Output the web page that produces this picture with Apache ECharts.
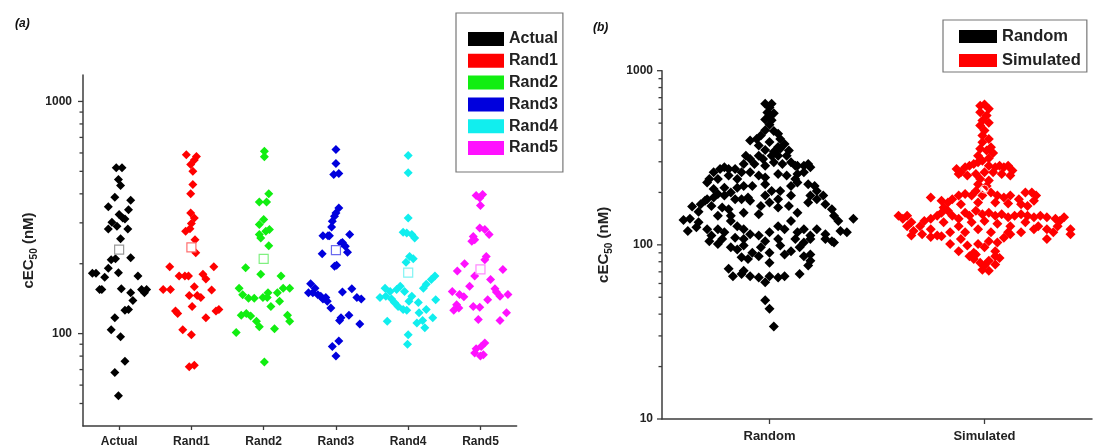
<!DOCTYPE html>
<html>
<head>
<meta charset="utf-8">
<script src="https://cdn.jsdelivr.net/npm/echarts@6/dist/echarts.min.js"></script>
<style>
  html, body { margin: 0; padding: 0; background: #fff; }
  #chart { width: 1093px; height: 448px; }
</style>
</head>
<body>
<div id="chart"></div>
<script>
// panel (a): categories, points are [offset from category centre, cEC50 nM]
var categoriesA = ['Actual', 'Rand1', 'Rand2', 'Rand3', 'Rand4', 'Rand5'];
var colorsA = ['#000000', '#ff0000', '#11ee11', '#0000dd', '#11eeee', '#ff11ff'];
var meanColorsA = ['#999999', '#ff7070', '#80f080', '#6a6aee', '#80f4f4', '#ff88ff'];

var actualPts = [[-0.04,518],[0.04,518],[-0.01,461],[0.02,434],[-0.06,387],[0.16,375],[-0.15,352],[0.13,342],
  [0.0,326],[0.05,315],[0.08,312],[-0.10,302],[-0.03,290],[-0.15,282],[0.12,282],[0.02,256],[-0.11,208],
  [-0.05,210],[0.16,212],[-0.15,191],[-0.01,183],[-0.37,182],[-0.32,182],[-0.20,175],[0.26,177],[-0.27,155],
  [-0.24,155],[0.03,156],[0.31,155],[0.38,155],[0.35,150],[0.16,150],[0.19,139],[0.08,126],[0.13,127],
  [-0.06,117],[-0.11,104],[0.02,97],[0.08,76],[-0.06,68],[-0.01,54]];
var rand1Pts = [[-0.07,590],[0.07,580],[0.04,560],[-0.01,535],[0.02,500],[0.02,439],[-0.01,400],[-0.01,331],
  [0.04,315],[0.0,298],[-0.02,283],[-0.08,276],[0.05,254],[0.06,223],[-0.30,194],[0.31,194],[-0.17,177],
  [-0.09,177],[-0.04,177],[0.16,180],[0.20,172],[-0.39,155],[-0.29,155],[0.04,159],[-0.03,146],[0.08,146],
  [0.13,143],[0.28,154],[-0.22,125],[-0.19,122],[0.01,131],[0.20,117],[0.34,125],[0.38,127],[-0.12,104],
  [0.0,99],[-0.03,72],[0.04,73]];
var rand2Pts = [[0.01,610],[0.01,578],[0.07,400],[-0.06,369],[0.04,369],[0.0,310],[-0.06,295],[0.08,281],
  [0.03,276],[-0.06,267],[-0.04,258],[0.07,239],[-0.04,180],[-0.25,192],[0.24,177],[-0.34,157],[0.27,157],
  [0.36,157],[-0.29,147],[-0.21,142],[-0.13,142],[0.06,150],[0.05,143],[0.19,150],[-0.01,143],[0.22,138],
  [0.10,131],[-0.31,120],[-0.24,122],[-0.18,119],[-0.10,113],[-0.06,107],[0.33,120],[0.36,113],[-0.38,101],
  [0.15,105],[0.01,75.5]];
var rand3Pts = [[0.0,621],[0.0,541],[-0.03,485],[0.04,490],[0.04,348],[0.0,331],[-0.02,320],[-0.05,305],
  [-0.06,288],[-0.18,264],[-0.11,264],[-0.09,264],[0.19,267],[0.07,245],[0.09,247],[0.13,238],[-0.19,221],
  [0.16,224],[-0.02,195],[0.01,197],[-0.35,164],[-0.29,157],[-0.32,150],[-0.38,150],[-0.25,147],[-0.21,145],
  [-0.18,141],[-0.12,138],[-0.07,129],[-0.14,143],[0.09,151],[0.22,156],[0.29,143],[0.35,141],[0.07,117],
  [0.18,120],[0.05,114],[0.33,110],[-0.05,88],[0.04,93],[0.0,80]];
var rand4Pts = [[0.0,585],[0.0,493],[0.0,315],[-0.07,273],[-0.02,271],[0.05,267],[0.09,258],[0.02,215],
  [0.07,210],[-0.03,203],[0.37,177],[0.32,171],[0.25,163],[0.21,157],[-0.32,157],[-0.25,152],[-0.16,155],
  [-0.11,160],[-0.39,143],[-0.31,145],[-0.23,141],[-0.19,136],[-0.14,131],[-0.07,127],[-0.02,126],[0.05,145],
  [0.01,138],[-0.05,152],[0.14,136],[0.15,123],[0.25,127],[0.38,140],[-0.29,113],[0.12,111],[0.20,114],
  [0.23,106],[0.34,117],[0.0,99],[-0.01,90]];
var rand5Pts = [[-0.06,393],[0.03,397],[-0.01,384],[0.0,356],[-0.01,285],[0.06,281],[0.12,267],[-0.10,262],
  [-0.12,250],[-0.08,254],[0.08,215],[0.06,208],[-0.22,200],[-0.32,186],[0.31,189],[-0.08,177],[0.14,171],
  [-0.15,160],[0.20,156],[0.22,151],[0.27,145],[-0.39,152],[-0.29,147.5],[-0.23,144],[0.38,147.5],[0.10,140],
  [-0.10,131],[-0.01,130],[-0.33,133],[-0.30,129],[-0.37,126],[0.36,123],[0.27,114],[-0.03,115],[0.06,91],
  [0.01,88],[-0.06,86],[-0.08,82.6],[0.0,80],[0.04,81]];
var groupsA = [actualPts, rand1Pts, rand2Pts, rand3Pts, rand4Pts, rand5Pts];
var meansA = [230, 235, 210, 229, 183, 189];

// panel (b)
var categoriesB = ['Random', 'Simulated'];
var randomPts = [
  [-0.02,646],[0.01,646],[0.0,615],[-0.01,575],[0.02,570],[0.0,550],[-0.02,525],[0.01,520],[0.0,490],
  [-0.09,397],[-0.06,406],[-0.04,425],[-0.02,455],[0.02,450],[0.04,434],[0.05,406],[0.07,380],[-0.05,372],
  [0.0,390],[0.04,365],[-0.02,350],[0.02,342],[0.05,356],[0.09,348],
  [-0.11,325],[-0.09,311],[-0.05,325],[-0.03,311],[0.01,325],[0.04,325],[0.08,325],[0.10,298],[-0.12,291],
  [-0.07,291],[-0.02,285],[0.02,298],[0.06,291],[0.12,285],
  [-0.26,261],[-0.23,273],[-0.21,279],[-0.19,273],[-0.16,273],[-0.13,261],[-0.28,239],[-0.24,239],[-0.19,250],
  [-0.15,239],[0.13,285],[0.16,285],[0.18,291],[0.19,279],[0.16,261],[0.13,255],[0.12,239],[-0.09,261],
  [-0.05,250],[-0.02,244],[0.04,255],[0.08,250],
  [-0.29,228],[-0.26,209],[-0.24,196],[-0.21,192],[-0.18,200],[-0.15,213],[-0.21,213],[-0.26,187],[-0.12,218],
  [-0.08,218],[-0.02,223],[0.01,204],[0.05,204],[0.10,218],[0.13,228],[0.18,223],[0.21,218],[0.22,204],
  [0.25,192],[0.19,192],[0.10,192],[0.04,183],[-0.02,192],[-0.10,187],[-0.16,183],[-0.29,183],[-0.32,171],
  [-0.36,166],[-0.33,155],[-0.30,179],[-0.27,167],[-0.22,164],[-0.19,160],[-0.13,183],[-0.09,179],[-0.04,167],
  [0.0,175],[0.04,164],[0.09,167],[0.13,153],[0.18,175],[0.22,183],[0.26,171],[0.29,160],[0.30,147],
  [-0.12,153],[-0.05,150],[-0.18,147],[-0.24,147],
  [-0.40,139],[-0.37,141],[-0.38,120],[-0.34,126],[-0.33,135],[-0.29,123],[-0.27,113],[-0.24,123],[-0.21,118],
  [-0.18,137],[-0.15,128],[-0.12,123],[-0.09,115],[-0.05,113],[0.0,118],[0.04,128],[0.07,123],[0.10,137],
  [0.13,118],[0.16,123],[0.19,113],[0.22,123],[0.26,115],[0.29,105],[0.33,120],[0.36,118],[0.39,141],
  [0.32,137],[-0.16,110],[-0.12,108],[-0.02,105],[0.04,108],[0.12,108],[-0.22,108],
  [-0.28,105],[-0.24,101],[-0.18,97],[-0.12,99],[-0.08,90],[-0.04,97],[0.0,90],[0.05,99],[0.07,88],
  [0.10,92],[0.14,97],[0.16,103],[0.19,108],[0.26,108],[0.30,103],[-0.13,85],[-0.10,83],[0.0,79],
  [-0.15,94],[-0.05,86],[0.16,86],[0.19,88],
  [-0.19,73],[-0.17,66],[-0.13,68],[-0.09,66],[-0.05,65],[-0.02,61],[0.0,66],[0.04,65],[0.07,66],
  [0.14,68],[0.18,76],[0.19,81],[-0.12,71],
  [-0.02,48],[0.0,43],[0.02,34]];
var simulatedPts = [
  [-0.02,630],[0.0,640],[0.02,604],[-0.02,578],[0.01,553],[-0.01,518],[0.02,502],[-0.02,485],[0.0,453],
  [-0.01,424],[0.02,406],[-0.01,388],[0.03,364],[-0.02,356],[0.01,348],[0.04,337],[-0.03,325],[0.02,314],
  [-0.13,273],[-0.11,261],[-0.09,279],[-0.07,285],[-0.05,291],[-0.03,298],[-0.01,304],[0.02,285],[0.05,279],
  [0.07,285],[0.09,279],[0.11,285],[0.13,267],[-0.12,255],[-0.08,250],[-0.04,255],[0.0,261],[0.04,261],
  [0.08,255],[0.12,250],[-0.02,239],[0.02,234],[-0.03,223],[0.01,218],
  [-0.25,187],[-0.20,179],[-0.17,175],[-0.15,183],[-0.12,192],[-0.09,196],[-0.06,192],[-0.04,204],[-0.01,192],
  [0.03,200],[0.06,192],[0.09,187],[0.12,192],[0.16,183],[0.19,200],[0.22,200],[0.24,192],[0.23,179],
  [-0.19,164],[-0.11,171],[-0.03,175],[0.05,175],[0.11,173],[0.17,171],[0.20,167],
  [-0.40,147],[-0.38,141],[-0.36,147],[-0.34,135],[-0.36,128],[-0.33,120],[-0.30,128],[-0.28,137],[-0.25,141],
  [-0.22,147],[-0.20,153],[-0.17,157],[-0.15,147],[-0.12,141],[-0.09,153],[-0.07,147],[-0.04,157],[-0.01,150],
  [0.02,153],[0.05,147],[0.08,150],[0.11,144],[0.14,147],[0.17,150],[0.20,147],[0.23,144],[0.26,147],
  [0.29,144],[0.33,141],[0.35,137],[0.37,144],[0.34,128],[0.40,123],[0.40,115],[0.29,123],[0.25,128],
  [0.19,135],[0.12,128],[0.06,132],[0.0,137],[-0.06,135],[-0.12,128],[-0.19,135],[-0.25,123],[-0.29,115],
  [-0.34,113],[-0.22,113],[-0.16,118],[-0.09,118],[-0.03,123],[0.03,118],[0.11,118],[0.17,118],[0.23,123],
  [0.29,108],[0.32,118],
  [-0.25,111],[-0.20,112],[-0.16,101],[-0.11,108],[-0.08,99],[-0.03,101],[0.02,105],[0.06,103],[0.09,110],
  [0.12,115],[-0.12,92],[-0.05,90],[0.05,92],[0.0,97],
  [-0.07,86],[-0.05,83],[-0.02,79],[0.0,76],[0.02,81],[0.05,86],[0.07,84],[-0.01,72],[0.02,71],
  [-0.04,88],[0.05,77]];
var meanSimulated = 209;

// axis tick values
var yMajorA = [100, 1000];
var yMinorA = [50, 60, 70, 80, 90, 200, 300, 400, 500, 600, 700, 800, 900];
var yMajorB = [10, 100, 1000];
var yMinorB = [20, 30, 40, 50, 60, 70, 80, 90, 200, 300, 400, 500, 600, 700, 800, 900];

var AX = '#3c3c3c';
var FONT = 'Arial, "Liberation Sans", sans-serif';

function logLabel(v) {
  var e = Math.log10(v);
  return Math.abs(e - Math.round(e)) < 1e-6 ? String(Math.round(v)) : '';
}

function tickSeries(idx, xMin, vals, len) {
  return {
    type: 'scatter', xAxisIndex: idx, yAxisIndex: idx, silent: true, clip: false,
    symbol: 'rect', symbolSize: [len, 1.3], symbolOffset: [-len / 2, 0],
    itemStyle: { color: AX, opacity: 1 }, z: 5,
    data: vals.map(function (v) { return [xMin, v]; })
  };
}

var yName = {
  name: '{a|cEC}{s|50}{a| (nM)}',
  nameLocation: 'middle',
  nameRotate: 90,
  nameTextStyle: {
    rich: {
      a: { fontSize: 15, fontWeight: 'bold', fontFamily: FONT, color: '#222', lineHeight: 20 },
      s: { fontSize: 10, fontWeight: 'bold', fontFamily: FONT, color: '#222', lineHeight: 12, verticalAlign: 'bottom' }
    }
  }
};

var series = [];
groupsA.forEach(function (pts, i) {
  series.push({
    name: categoriesA[i], type: 'scatter', xAxisIndex: 0, yAxisIndex: 0,
    symbol: 'diamond', symbolSize: 9,
    itemStyle: { color: colorsA[i], opacity: 1 },
    data: pts.map(function (p) { return [i + 1 + p[0], p[1]]; })
  });
});
meansA.forEach(function (m, i) {
  series.push({
    name: 'mean' + i, type: 'scatter', xAxisIndex: 0, yAxisIndex: 0, z: 4,
    symbol: 'rect', symbolSize: 9,
    itemStyle: { color: '#ffffff', borderColor: meanColorsA[i], borderWidth: 1.2, opacity: 1 },
    data: [[i + 1, m]]
  });
});
series.push({
  name: 'Random', type: 'scatter', xAxisIndex: 1, yAxisIndex: 1,
  symbol: 'diamond', symbolSize: 10, itemStyle: { color: '#000', opacity: 1 },
  data: randomPts.map(function (p) { return [1 + p[0], p[1]]; })
});
series.push({
  name: 'Simulated', type: 'scatter', xAxisIndex: 1, yAxisIndex: 1,
  symbol: 'diamond', symbolSize: 10, itemStyle: { color: '#ff0000', opacity: 1 },
  data: simulatedPts.map(function (p) { return [2 + p[0], p[1]]; })
});
series.push({
  name: 'meanSim', type: 'scatter', xAxisIndex: 1, yAxisIndex: 1, z: 4,
  symbol: 'circle', symbolSize: 8,
  itemStyle: { color: 'rgba(255,255,255,0)', borderColor: '#ffb8b8', borderWidth: 1, opacity: 1 },
  data: [[2, meanSimulated]]
});
series.push(tickSeries(0, 0.5, yMajorA, 5));
series.push(tickSeries(0, 0.5, yMinorA, 3.5));
series.push(tickSeries(1, 0.5, yMajorB, 5));
series.push(tickSeries(1, 0.5, yMinorB, 3.5));

var chart = echarts.init(document.getElementById('chart'));
chart.setOption({
  animation: false,
  title: [
    { text: '(a)', left: 10, top: 13, textStyle: { fontSize: 12, fontWeight: 'bold', fontStyle: 'italic', fontFamily: FONT, color: '#111' } },
    { text: '(b)', left: 588, top: 17, textStyle: { fontSize: 12, fontWeight: 'bold', fontStyle: 'italic', fontFamily: FONT, color: '#111' } }
  ],
  legend: [
    {
      orient: 'vertical', left: 456, top: 13, icon: 'rect', itemWidth: 36, itemHeight: 14, itemGap: 5.8,
      padding: [18, 5, 16, 12], borderColor: '#777', borderWidth: 1.2, selectedMode: false,
      itemStyle: { opacity: 1 },
      textStyle: { fontSize: 16, fontWeight: 'bold', fontFamily: FONT, color: '#222' },
      data: categoriesA
    },
    {
      orient: 'vertical', left: 943, top: 20, icon: 'rect', itemWidth: 38, itemHeight: 13, itemGap: 7,
      padding: [8, 6, 3, 16], borderColor: '#777', borderWidth: 1.2, selectedMode: false,
      itemStyle: { opacity: 1 },
      textStyle: { fontSize: 16.5, fontWeight: 'bold', fontFamily: FONT, color: '#222' },
      data: categoriesB
    }
  ],
  grid: [
    { left: 83, top: 75, width: 433.6, height: 351.7 },
    { left: 662, top: 70.7, width: 430, height: 348.3 }
  ],
  xAxis: [
    {
      type: 'value', gridIndex: 0, min: 0.5, max: 6.5,
      splitLine: { show: false },
      axisLine: { show: true, onZero: false, lineStyle: { color: AX, width: 1.5 } },
      axisTick: { show: true, customValues: [1, 2, 3, 4, 5, 6], length: 4, lineStyle: { color: AX, width: 1.3 } },
      axisLabel: {
        customValues: [1, 2, 3, 4, 5, 6], margin: 10,
        fontSize: 12, fontWeight: 'bold', fontFamily: FONT, color: '#222',
        formatter: function (v) { return categoriesA[Math.round(v) - 1]; }
      }
    },
    {
      type: 'value', gridIndex: 1, min: 0.5, max: 2.5,
      splitLine: { show: false },
      axisLine: { show: true, onZero: false, lineStyle: { color: AX, width: 1.5 } },
      axisTick: { show: true, customValues: [1, 2], length: 5, lineStyle: { color: AX, width: 1.3 } },
      axisLabel: {
        customValues: [1, 2], margin: 11,
        fontSize: 13, fontWeight: 'bold', fontFamily: FONT, color: '#222',
        formatter: function (v) { return categoriesB[Math.round(v) - 1]; }
      }
    }
  ],
  yAxis: [
    Object.assign({
      type: 'log', logBase: 10, gridIndex: 0, min: 40, max: 1300, nameGap: 44,
      splitLine: { show: false },
      axisLine: { show: true, onZero: false, lineStyle: { color: AX, width: 1.5 } },
      axisTick: { show: false },
      axisLabel: { margin: 11, fontSize: 12, fontWeight: 'bold', fontFamily: FONT, color: '#222', formatter: logLabel }
    }, yName),
    Object.assign({
      type: 'log', logBase: 10, gridIndex: 1, min: 10, max: 1000, nameGap: 48,
      splitLine: { show: false },
      axisLine: { show: true, onZero: false, lineStyle: { color: AX, width: 1.5 } },
      axisTick: { show: false },
      axisLabel: { margin: 9, fontSize: 12, fontWeight: 'bold', fontFamily: FONT, color: '#222', formatter: logLabel }
    }, yName)
  ],
  series: series
});
</script>
</body>
</html>
